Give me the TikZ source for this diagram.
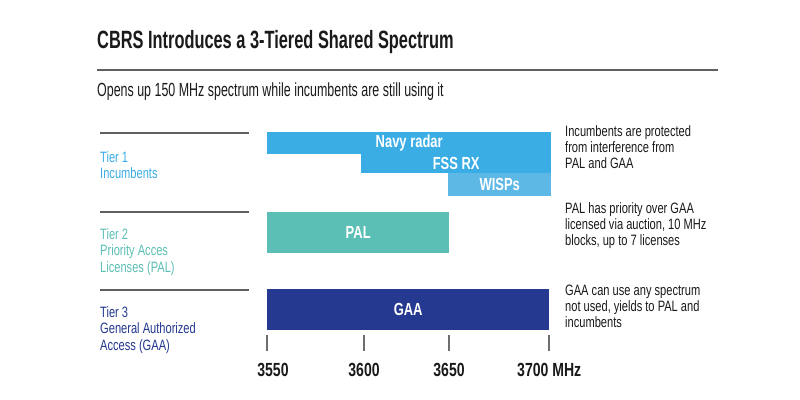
\documentclass[tikz,border=0pt]{standalone}
\usepackage{fontspec}
\setmainfont{Liberation Sans}
\newfontfamily\condfont[FakeStretch=0.74]{Liberation Sans}
\newfontfamily\narrowfont[FakeStretch=0.655]{Liberation Sans}
\usepackage{xcolor}
\usetikzlibrary{positioning}
\definecolor{cbink}{HTML}{1A1A1A}
\definecolor{cbrule}{HTML}{606060}
\definecolor{cbtick}{HTML}{6E6E6E}
\definecolor{cbsky}{HTML}{3AADE5}
\definecolor{cbskylt}{HTML}{5DB8E6}
\definecolor{cbteal}{HTML}{5BBFB5}
\definecolor{cbnavy}{HTML}{24398F}
\tikzset{
  band/.style={draw=none,inner sep=0pt,anchor=north west,text=white,font=\condfont\bfseries\fontsize{17.5}{17.5}\selectfont},
  tierlbl/.style={anchor=west,align=left,inner sep=0pt,font=\condfont\fontsize{15}{16.5}\selectfont},
  note/.style={anchor=west,align=left,inner sep=0pt,text=cbink,font=\condfont\fontsize{15}{16}\selectfont},
  tierrule/.style={draw=cbrule,line width=1.6pt},
  tickmark/.style={draw=cbtick,line width=1.6pt},
  freq/.style={inner sep=0pt,text=cbink,font=\condfont\bfseries\fontsize{19}{19}\selectfont},
}
\begin{document}
\begin{tikzpicture}[x=1pt,y=-1pt]
  \useasboundingbox[fill=white] (0,0) rectangle (800,399);
  % heading
  \node[anchor=base west,inner sep=0pt,text=cbink,font=\narrowfont\bfseries\fontsize{25}{25}\selectfont] (title) at (97,48) {CBRS Introduces a 3-Tiered Shared Spectrum};
  \coordinate (hl) at (97,70); \coordinate (hr) at (718,70);
  \draw[draw=cbrule,line width=2.2pt] (hl) -- (hr);
  \node[anchor=west,inner sep=0pt,text=cbink,font=\narrowfont\fontsize{19}{19}\selectfont] (sub) at (97,92) {Opens up 150 MHz spectrum while incumbents are still using it};
  % tier rules
  \foreach \y/\n in {133/r1,212/r2,290/r3}{
    \coordinate (\n a) at (100,\y); \coordinate (\n b) at (249,\y);
    \draw[tierrule] (\n a) -- (\n b);
  }
  \node[tierlbl,text=cbsky] (t1) at (100,165) {Tier 1\\Incumbents};
  \node[tierlbl,text=cbteal] (t2) at (100,252) {Tier 2\\Priority Acces\\Licenses (PAL)};
  \node[tierlbl,text=cbnavy] (t3) at (100,330) {Tier 3\\General Authorized\\Access (GAA)};
  % bands
  \node[band,fill=cbsky,minimum width=284pt,minimum height=22pt] (navy) at (267,132) {Navy radar};
  \node[band,fill=cbsky,minimum width=190pt,minimum height=19pt] (fss) at (361,154) {FSS RX};
  \node[band,fill=cbskylt,minimum width=103pt,minimum height=23pt] (wisp) at (448,173) {WISPs};
  \node[band,fill=cbteal,minimum width=182pt,minimum height=41pt] (pal) at (267,212) {PAL};
  \node[band,fill=cbnavy,minimum width=282pt,minimum height=41pt] (gaa) at (267,289) {GAA};
  % notes
  \node[note] (n1) at (565,147) {Incumbents are protected\\from interference from\\PAL and GAA};
  \node[note] (n2) at (565,226) {PAL has priority over GAA\\licensed via auction, 10 MHz\\blocks, up to 7 licenses};
  \node[note] (n3) at (565,306) {GAA can use any spectrum\\not used, yields to PAL and\\incumbents};
  % axis
  \foreach \x/\n in {267/k1,364/k2,449/k3,549/k4}{
    \coordinate (\n a) at (\x,335); \coordinate (\n b) at (\x,351);
    \draw[tickmark] (\n a) -- (\n b);
  }
  \node[freq] (f1) at (273,370) {3550};
  \node[freq] (f2) at (364,370) {3600};
  \node[freq] (f3) at (449,370) {3650};
  \node[freq,anchor=west] (f4) at (517,370) {3700 MHz};
\end{tikzpicture}
\end{document}
